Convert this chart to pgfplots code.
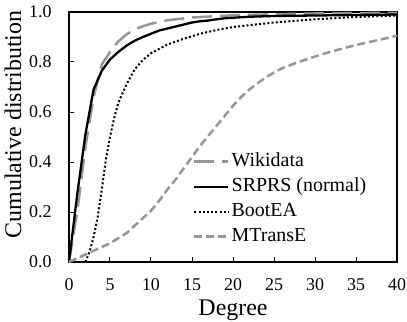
\documentclass[border=0pt]{standalone}
\usepackage{fontspec}
\setmainfont{Liberation Serif}
\usepackage{pgfplots}
\pgfplotsset{compat=1.18}
\definecolor{lg}{RGB}{150,150,150}
\begin{document}
\begin{tikzpicture}
\begin{axis}[
  scale only axis, width=328bp, height=250bp,
  xmin=0, xmax=40, ymin=0, ymax=1,
  xtick={0,5,...,40}, ytick={0,0.2,0.4,0.6,0.8,1.0},
  xticklabel={\pgfmathprintnumber[fixed,assume math mode=true]{\tick}},
  yticklabel={\pgfmathprintnumber[fixed,fixed zerofill,precision=1,assume math mode=true]{\tick}},
  ticklabel style={font=\fontsize{18}{20}\selectfont},
  yticklabel style={anchor=east, xshift=-14bp},
  xticklabel style={anchor=north, yshift=-13bp},
  tick align=inside, xtick pos=bottom, ytick pos=left,
  major tick length=5bp,
  tick style={black, line width=1bp},
  axis line style={line width=1.3bp},
  xlabel={Degree}, ylabel={Cumulative distribution},
  label style={font=\fontsize{24}{26}\selectfont},
  xlabel style={at={(axis description cs:0.5,0)}, anchor=center, yshift=-48bp},
  ylabel style={at={(axis description cs:-0.1707,0.55)}, anchor=center},
  legend style={draw=none, fill=none, at={(0.378,0.438)}, anchor=north west,
    font=\fontsize{20}{22}\selectfont, row sep=7bp, inner sep=0pt,
    nodes={text height=14bp, text depth=4bp, inner ysep=0pt, inner xsep=2bp}},
  legend cell align=left,
  legend image code/.code={\draw[#1] (0bp,0bp) -- (34bp,0bp);},
]
\addplot[lg, line width=2.5bp, dash pattern=on 20bp off 8bp] coordinates {
(0,0) (1,0.2) (2,0.46) (3,0.66) (4,0.79) (5,0.84) (6,0.882) (7,0.91) (8,0.93) (9,0.943) (10,0.953) (12,0.967) (15,0.978) (20,0.987) (25,0.991) (30,0.994) (40,0.997)};
\addlegendentry{Wikidata}
\addplot[black, line width=2.3bp] coordinates {
(0,0) (1,0.27) (2,0.51) (3,0.69) (4,0.765) (5,0.81) (6,0.84) (7,0.865) (8,0.885) (9,0.90) (10,0.913) (11,0.926) (12,0.934) (13,0.942) (14,0.95) (15,0.958) (16,0.963) (17,0.966) (18,0.971) (19,0.975) (20,0.977) (22,0.981) (25,0.984) (30,0.986) (35,0.988) (40,0.99)};
\addlegendentry{SRPRS (normal)}
\addplot[black, line width=2bp, dash pattern=on 2bp off 2.2bp] coordinates {
(2,0) (2.5,0.04) (3,0.1) (3.5,0.18) (4,0.29) (4.5,0.41) (5,0.5) (5.5,0.575) (6,0.635) (7,0.71) (8,0.77) (9,0.808) (10,0.835) (12,0.87) (14,0.893) (16,0.913) (18,0.928) (20,0.94) (25,0.958) (30,0.971) (35,0.98) (40,0.986)};
\addlegendentry{BootEA}
\addplot[lg, line width=2.5bp, dash pattern=on 8bp off 4bp] coordinates {
(0,0) (1,0.015) (2,0.03) (3,0.045) (4,0.06) (5,0.075) (6,0.095) (7,0.115) (8,0.145) (9,0.175) (10,0.205) (11,0.245) (12,0.29) (13,0.33) (14,0.375) (15,0.42) (16,0.465) (17,0.505) (18,0.545) (19,0.585) (20,0.625) (21,0.66) (22,0.69) (23,0.715) (24,0.738) (25,0.758) (26,0.775) (28,0.8) (30,0.822) (32,0.842) (35,0.868) (38,0.89) (40,0.905)};
\addlegendentry{MTransE}
\end{axis}
\pgfresetboundingbox
\path[use as bounding box] ([shift={(-69bp,-60bp)}]current axis.south west) rectangle ([shift={(10bp,12bp)}]current axis.north east);
\end{tikzpicture}
\end{document}
